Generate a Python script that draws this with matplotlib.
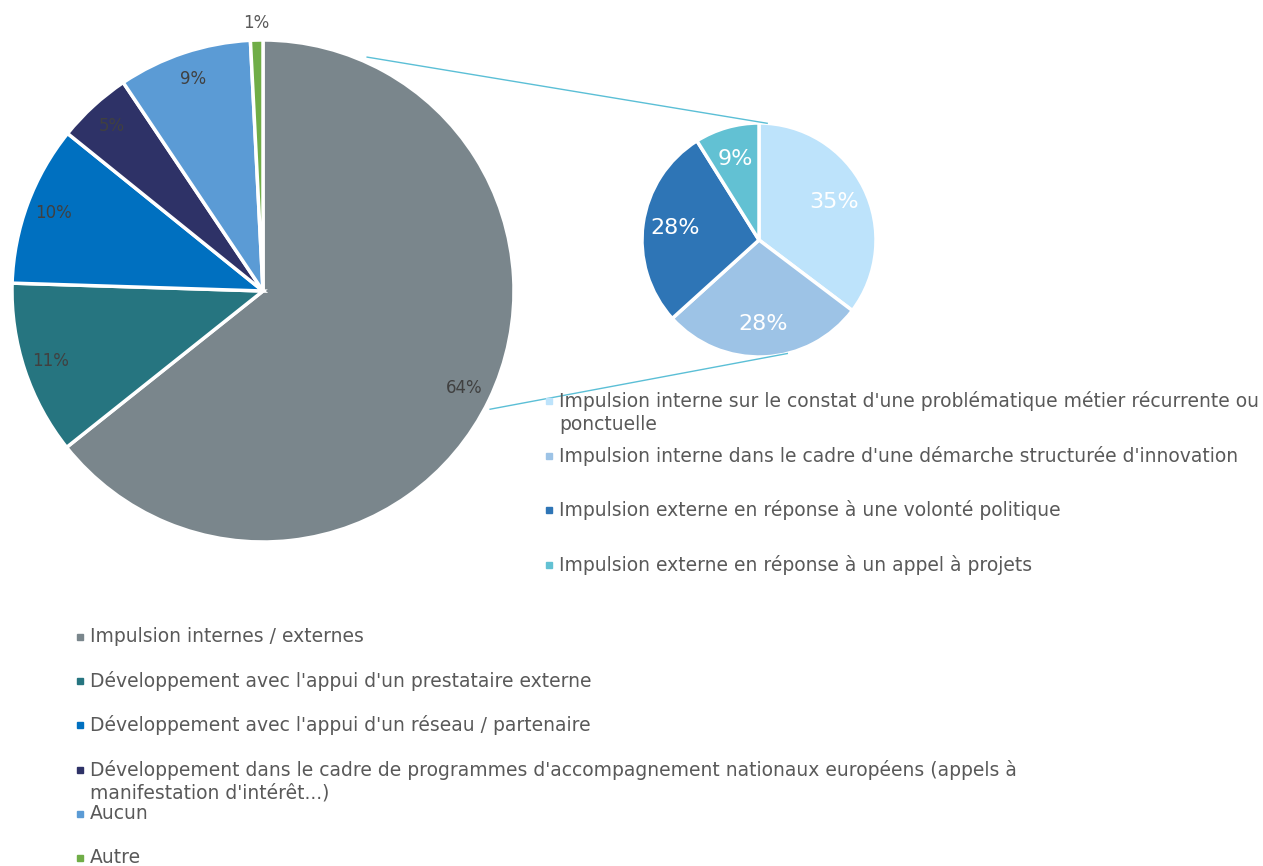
import numpy as np
import matplotlib.pyplot as plt

plt.rcParams['font.family'] = ['DejaVu Sans']

# main pie
main_labels = ["Impulsion internes / externes",
               "Développement avec l'appui d'un prestataire externe",
               "Développement avec l'appui d'un réseau / partenaire",
               "Développement dans le cadre de programmes d'accompagnement nationaux européens (appels à\nmanifestation d'intérêt...)",
               "Aucun",
               "Autre"]
main_values = [64.3, 11.2, 10.3, 4.8, 8.6, 0.8]
main_colors = ['#7A868C', '#267580', '#0070C0', '#2E3267', '#5B9BD5', '#70AD47']

# detail pie (breakdown of "Impulsion internes / externes")
sub_labels = ["Impulsion interne sur le constat d'une problématique métier récurrente ou\nponctuelle",
              "Impulsion interne dans le cadre d'une démarche structurée d'innovation",
              "Impulsion externe en réponse à une volonté politique",
              "Impulsion externe en réponse à un appel à projets"]
sub_values = [35.3, 28.0, 27.8, 8.9]
sub_colors = ['#BDE3FB', '#9DC3E6', '#2E75B6', '#62C1D3']

W, H = 1263, 866
fig = plt.figure(figsize=(W / 100, H / 100), dpi=100)
ax = fig.add_axes([0, 0, 1, 1])

big_c, big_r = (263, H - 291), 251
small_c, small_r = (759, H - 240), 117
txt_col = '#595959'

wedges, _, autotexts = ax.pie(main_values, colors=main_colors, startangle=90,
                              counterclock=False, center=big_c, radius=big_r,
                              autopct='%1.0f%%', pctdistance=0.89, frame=True,
                              wedgeprops=dict(edgecolor='white', linewidth=2.5),
                              textprops=dict(color='#404040', fontsize=12))
# the 1% label sits outside the slice
t = autotexts[-1]
x, y = t.get_position()
t.set_position((big_c[0] + (x - big_c[0]) * 1.2, big_c[1] + (y - big_c[1]) * 1.2))
t.set_color(txt_col)

ax.pie(sub_values, colors=sub_colors, startangle=90, counterclock=False,
       center=small_c, radius=small_r, autopct='%1.0f%%', pctdistance=0.72,
       frame=True, wedgeprops=dict(edgecolor='white', linewidth=2.5),
       textprops=dict(color='white', fontsize=16))

# connector lines between the two pies
line_col = '#5BBFD6'
for a_big, a_small in [(66, 86), (-27.5, -76)]:
    x0 = big_c[0] + 1.02 * big_r * np.cos(np.radians(a_big))
    y0 = big_c[1] + 1.02 * big_r * np.sin(np.radians(a_big))
    x1 = small_c[0] + small_r * np.cos(np.radians(a_small))
    y1 = small_c[1] + small_r * np.sin(np.radians(a_small))
    ax.plot([x0, x1], [y0, y1], color=line_col, lw=1)

# legends
def legend_block(labels, colors, x, y0, step):
    for i, (lab, col) in enumerate(zip(labels, colors)):
        y = H - (y0 + i * step)
        ax.plot(x, y, marker='s', ms=5, color=col, ls='none')
        ax.text(x + 10, y + 10, lab, color=txt_col, fontsize=13.5,
                va='top', ha='left', linespacing=1.25)

legend_block(sub_labels, sub_colors, 549, 401, 54.7)
legend_block(main_labels, main_colors, 80, 637, 44.2)

ax.set_xlim(0, W)
ax.set_ylim(0, H)
ax.set_aspect('auto')
ax.axis('off')

plt.savefig('out.png', dpi=100)
